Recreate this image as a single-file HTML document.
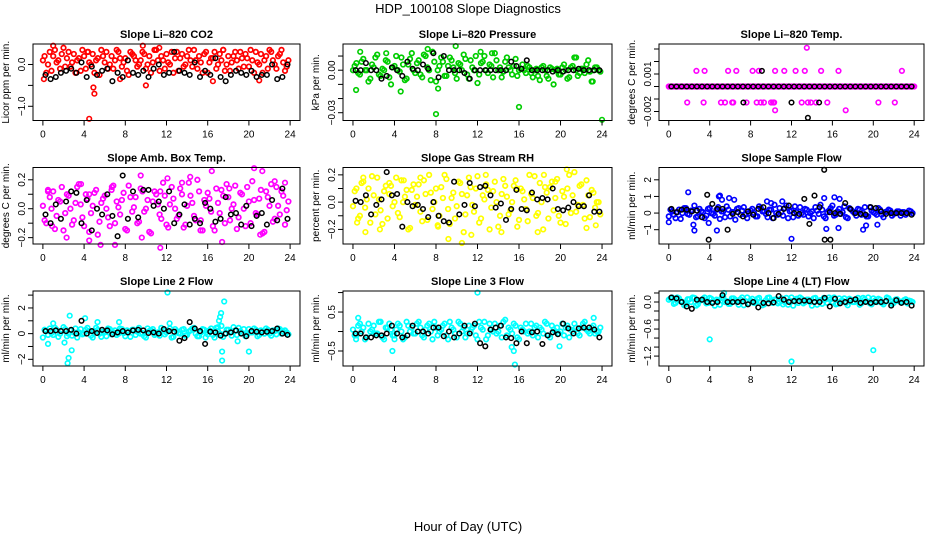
<!DOCTYPE html>
<html><head><meta charset="utf-8"><style>
body{margin:0;background:#fff}
svg{display:block;font-family:"Liberation Sans",sans-serif}
</style></head><body>
<svg id="chart" width="936" height="540" viewBox="0 0 936 540">
<text x="468" y="13" text-anchor="middle" font-size="13">HDP_100108  Slope Diagnostics</text>
<text x="468" y="531" text-anchor="middle" font-size="13">Hour of Day (UTC)</text>
</svg>
<script>
const xTicks=[0,4,8,12,16,20,24];
const p1Main=[0.1,-0.2,0.3,0.2,0.05,-0.1,0.4,0.15,-0.05,0.25,0.1,-0.15,0.2,0.3,0.0,-0.2,0.15,0.35,0.05,-0.1,0.2,0.1,0.3,-0.05,0.15,-0.25,0.25,0.1,0.0,0.3,-0.1,0.2,0.05,0.35,-0.15,0.1,0.25,0.0,-0.2,0.3,0.15,-0.05,0.2,0.1,0.35,-0.1,0.05,0.25,-0.2,0.15,0.3,0.0,0.1,-0.15,0.2,0.05,0.3,-0.1,0.15,0.25,-0.05,0.1,0.3,0.0,-0.2,0.2,0.35,0.1,-0.1,0.25,0.05,-0.05];
const p1Main2=[0.2,0.0,-0.15,0.35,0.1,0.25,-0.05,0.3,0.05,-0.2,0.15,0.35,-0.1,0.05,0.25,0.1,-0.25,0.2,0.3,0.0,-0.1,0.35,0.15,0.05,-0.15,0.3,0.2,-0.05,0.1,0.25,0.0,-0.2,0.35,0.1,0.2,-0.1,0.05,0.3,0.15,-0.15,0.25,0.0,0.35,-0.05,0.1,0.2,-0.2,0.3,0.05,0.15,-0.1,0.25,0.35,0.0,-0.15,0.2,0.1,0.3,-0.05,0.15,0.35,-0.2,0.05,0.25,0.1,-0.1,0.3,0.0,0.2,0.35,-0.15,0.1];
const p1ExH=[4.5,4.9,5.0,10.0,1.0,9.7,11.3,17.5,0.1,7.5,21.0,16.5,4.4];
const p1ExV=[-1.3,-0.55,-0.7,-0.5,0.45,0.45,0.4,0.35,-0.35,-0.35,-0.38,-0.4,0.3];
const p1Blk=[-0.25,-0.35,-0.3,-0.2,-0.15,-0.1,-0.2,0.05,-0.3,-0.05,-0.25,-0.15,-0.1,-0.4,-0.2,-0.3,0.1,-0.2,-0.25,-0.15,-0.3,-0.1,0.0,-0.25,-0.2,0.3,-0.15,-0.2,-0.25,0.05,-0.3,-0.15,-0.25,0.15,-0.3,-0.4,-0.25,-0.15,-0.2,-0.25,-0.15,-0.3,-0.25,-0.25,0.0,-0.35,-0.3,0.0];
const p2Main=[0,0.005,-0.003,0.008,0,-0.006,0.002,0.011,-0.004,0,0.006,-0.01,0.003,0,0.009,-0.007,0.004,0.012,-0.002,0.007,-0.005,0.01,0,0.013,-0.008,0.003,0.006,-0.004,0.009,0.002,-0.006,0.004,0.011,-0.003,0.007,0,-0.009,0.005,0.01,-0.002,0.003,0.012,0,-0.005,0.006,0.002,-0.003,0.008,0,0.004,-0.002,0.002,-0.005,0.001,-0.007,0.003,-0.004,0.002,-0.01,0.001,-0.003,0.004,-0.006,0.002,0.009,-0.004,0.001,-0.002,0.007,-0.008,0.002,0];
const p2Main2=[0.003,-0.002,0.006,0.0,-0.008,0.004,0.009,-0.003,0.001,0.007,-0.005,0.002,0.01,-0.001,0.004,-0.006,0.008,0.0,0.005,-0.003,0.011,0.002,-0.007,0.006,0.0,0.009,-0.004,0.003,0.007,-0.002,0.005,0.0,0.008,-0.006,0.002,0.01,-0.003,0.006,0.0,0.004,-0.005,0.007,0.002,-0.001,0.009,0.0,0.003,-0.004,0.001,0.0,0.003,-0.002,0.0,-0.004,0.002,0.0,-0.006,0.001,0.0,-0.003,0.002,0.0,-0.005,0.003,0.0,-0.002,0.001,0.004,-0.001,0.0,0.002,-0.001];
const p2ExH=[8.0,16.0,24.0,9.9,0.3,4.6,7.2,8.2,12.3,13.4,21.5,23.1,0.7,3.2];
const p2ExV=[-0.031,-0.026,-0.035,0.017,-0.014,-0.015,0.015,-0.013,0.013,0.012,0.009,-0.008,0.013,0.012];
const p2Blk=[0,0,0.005,0,0,-0.006,-0.004,0.002,0,-0.004,0.006,0.001,0,0.004,0.001,0.012,-0.005,0.01,0,0,0,-0.002,-0.006,0,0,0,0,0,0,0,0.006,0.003,0.001,0.007,0,0,0,0,-0.001,0,-0.001,0,0,0.001,0,0,0,0];
const p3Main=[0,0,0,0,0,0,0,0,0,0,0,0,0,0,0,0,0,0,0,0,0,0,0,0,0,0,0,0,0,0,0,0,0,0,0,0,0,0,0,0,0,0,0,0,0,0,0,0,0,0,0,0,0,0,0,0,0,0,0,0,0,0,0,0,0,0,0,0,0,0,0,0];
const p3Main2=[0,0,0,0,0,0,0,0,0,0,0,0,0,0,0,0,0,0,0,0,0,0,0,0,0,0,0,0,0,0,0,0,0,0,0,0,0,0,0,0,0,0,0,0,0,0,0,0,0,0,0,0,0,0,0,0,0,0,0,0,0,0,0,0,0,0,0,0,0,0,0,0];
const p3ExH=[1.8,2.7,3.5,3.4,5.1,5.8,5.5,6.2,6.3,6.6,7.6,8.2,8.8,8.6,9.3,9.0,10.0,10.2,10.4,10.3,11.3,12.4,13.0,13.3,13.6,13.9,14.4,14.9,15.5,16.6,20.5,22.1,22.8,13.5,10.4,17.3,24.0];
const p3ExV=[-0.00128,0.00125,0.00125,-0.00128,-0.00128,0.00125,-0.00128,-0.00128,-0.00128,0.00125,-0.00128,0.00125,0.00125,-0.00128,-0.00128,-0.00128,-0.00128,-0.00128,0.00125,-0.00128,0.00125,0.00125,-0.00128,0.00125,-0.00128,-0.00128,-0.00128,0.00125,-0.00128,0.00125,-0.00128,-0.00128,0.00125,0.0031,-0.0019,-0.0019,0];
const p3Blk=[0,0,0,0,0,0,0,0,0,0,0,0,0,0,0,0,0,0,0,0,0,0,0,0,0,0,0,0,0,0,0,0,0,0,0,0,0,0,0,0,0,0,0,0,0,0,0,0];
const p3BExH=[9.1,12,14.7,7.3,13.6];
const p3BExV=[0.00125,-0.00128,-0.00128,-0.00128,-0.0025];
const p4Main=[0.02,-0.1,0.08,0.12,-0.05,0.05,-0.15,0.1,0.0,-0.08,0.15,0.03,-0.12,0.07,-0.03,0.11,-0.18,0.04,0.09,-0.06,0.13,-0.1,0.01,0.06,-0.14,0.16,-0.02,0.08,-0.09,0.12,0.0,-0.16,0.05,0.1,-0.04,0.18,-0.11,0.03,0.07,-0.07,0.14,-0.13,0.02,0.09,-0.05,0.2,-0.08,0.06,0.11,-0.02,-0.15,0.04,0.13,-0.1,0.08,0.0,0.16,-0.06,0.1,-0.12,0.05,0.19,-0.03,0.07,-0.17,0.12,0.02,-0.09,0.15,-0.04,0.09,-0.01];
const p4Main2=[-0.08,0.12,0.0,-0.14,0.06,0.15,-0.03,0.09,-0.11,0.04,0.17,-0.06,0.1,-0.16,0.02,0.13,-0.09,0.07,0.0,-0.12,0.16,0.05,-0.04,0.11,-0.15,0.08,0.01,-0.1,0.14,-0.02,0.06,-0.17,0.12,0.03,-0.07,0.09,-0.13,0.15,0.0,-0.05,0.1,-0.11,0.18,0.04,-0.08,0.12,-0.15,0.02,0.07,-0.12,0.14,-0.03,0.09,0.17,-0.08,0.03,-0.14,0.11,0.0,0.15,-0.1,0.06,-0.04,0.13,-0.16,0.08,0.17,-0.07,0.02,0.12,-0.11,0.05];
const p4ExH=[0.5,3.7,4.5,5.6,7.0,9.5,11.4,12.1,14.3,16.4,17.4,20.5,21.3,22.5,23.5,0.9,2.3,4.5,6.7,9.6,11.4,13.5,15.3,18.1,21.1];
const p4ExV=[0.13,0.17,-0.22,-0.25,-0.25,0.23,-0.27,0.21,0.22,0.26,-0.23,0.28,0.26,0.19,0.18,-0.12,-0.2,0.1,0.15,-0.2,0.12,0.18,-0.15,0.14,-0.18];
const p4Blk=[-0.04,-0.1,0.03,-0.07,0.05,0.12,0.11,-0.1,0.06,-0.15,0.0,-0.04,0.1,-0.05,-0.19,0.23,-0.07,0.12,-0.06,0.13,0.13,0.02,0.05,0.0,0.12,-0.1,-0.04,0.03,-0.11,-0.07,-0.1,0.04,0.0,-0.09,-0.07,0.08,-0.04,-0.03,-0.11,0.02,-0.12,-0.05,-0.03,-0.11,0.06,-0.08,0.14,-0.07];
const p5Main=[-0.03,0.1,-0.1,0.15,0.02,-0.15,0.05,0.18,-0.06,0.08,-0.12,0.12,0.0,-0.08,0.16,0.04,-0.2,0.09,-0.02,0.13,-0.14,0.06,0.2,-0.05,0.1,-0.1,0.03,0.17,-0.16,0.07,-0.03,0.14,-0.22,0.05,0.11,-0.07,0.19,-0.12,0.02,0.09,-0.04,0.15,-0.18,0.06,0.12,-0.09,0.0,0.16,-0.13,0.08,-0.05,0.2,0.03,-0.1,0.14,-0.2,0.07,0.11,-0.06,0.17,-0.15,0.04,0.1,-0.08,0.22,-0.02,0.13,-0.12,0.05,0.09,-0.04,0.0];
const p5Main2=[0.08,-0.12,0.14,-0.04,0.1,0.19,-0.09,0.02,-0.16,0.12,0.06,-0.03,0.18,-0.11,0.0,0.09,-0.19,0.13,0.04,-0.07,0.16,-0.13,0.07,0.0,-0.17,0.11,0.2,-0.05,0.03,-0.12,0.15,0.06,-0.09,0.18,-0.02,0.1,-0.15,0.05,0.13,-0.2,0.08,0.0,-0.1,0.17,0.04,-0.06,0.12,-0.18,0.1,0.02,-0.14,0.06,0.19,-0.08,0.0,0.11,-0.12,0.15,0.03,-0.1,0.08,-0.16,0.2,0.05,-0.07,0.12,-0.02,0.16,-0.11,0.07,0.0,-0.09];
const p5ExH=[0.4,1.2,2.6,4.9,8.2,9.2,10.5,11.4,14.3,17.8,18.4,20.6,22.5,23.4,1.0,3.5,6.5,12.8,15.8,19.5];
const p5ExV=[-0.15,-0.22,-0.2,0.16,-0.18,-0.27,-0.3,-0.24,-0.22,-0.22,0.2,0.24,-0.19,-0.17,0.18,0.14,0.18,0.2,0.1,0.15];
const p5Blk=[0.01,0.0,0.05,-0.09,-0.02,0.02,0.22,0.05,0.06,-0.18,0.0,-0.03,-0.02,-0.05,-0.11,0.0,-0.1,-0.14,-0.15,0.15,-0.09,-0.02,0.14,-0.03,0.11,0.12,0.05,-0.04,-0.01,-0.13,-0.05,0.09,-0.05,-0.06,0.07,0.02,0.03,0.02,0.1,-0.05,-0.06,-0.04,0.0,-0.03,-0.03,0.05,-0.07,-0.07];
const p6Main=[-0.2,0.1,-0.3,0.2,0.0,0.3,-0.1,0.15,-0.25,0.25,0.05,-0.15,0.3,-0.05,0.2,-0.35,0.1,0.4,-0.2,0.05,0.25,-0.1,0.35,-0.3,0.15,0.0,-0.2,0.3,0.1,-0.25,0.2,0.5,-0.1,0.05,0.3,-0.3,0.15,0.4,-0.15,0.0,0.25,-0.2,0.1,0.35,-0.05,0.2,-0.3,0.15,0.45,-0.1,0.25,0.05,-0.25,0.3,0.1,-0.15,0.2,0.0,-0.2,0.35,0.05,-0.1,0.2,-0.25,0.1,0.15,-0.05,0.1,-0.15,0.05,0.0,0.1];
const p6Main2=[0.2,-0.1,0.05,-0.35,0.3,-0.05,0.15,0.45,-0.2,0.1,-0.3,0.25,0.0,-0.15,0.35,0.1,-0.25,0.2,0.05,-0.4,0.3,0.15,-0.1,0.0,0.25,-0.2,0.4,0.1,-0.05,0.2,-0.3,0.0,0.3,-0.15,0.45,0.1,-0.25,0.05,0.35,-0.1,0.2,0.0,-0.3,0.15,0.5,-0.2,0.05,0.3,-0.15,0.1,-0.05,0.4,-0.3,0.2,0.0,0.25,-0.1,0.35,-0.2,0.15,0.0,0.3,-0.1,0.05,0.2,-0.15,0.0,0.1,0.05,-0.1,0.15,0.0];
const p6ExH=[0.0,1.9,2.4,2.5,4.7,4.9,5.0,5.2,5.9,6.4,9.6,11.1,12.0,15.2,15.4,16.2,16.6,16.7,19.0,19.3,20.4,3.9,10.0];
const p6ExV=[-0.55,1.25,-0.7,-1.05,-1.05,1.0,1.05,0.8,0.9,0.8,0.7,0.7,-1.55,0.9,-0.95,0.95,-0.9,0.85,-1.0,-0.75,-0.7,-0.6,0.6];
const p6Blk=[0.25,0.05,0.2,0.2,0.1,0.15,-0.25,1.1,0.55,0.25,0.25,-1.0,-0.05,0.05,-0.2,0.1,-0.1,0.25,0.35,0.0,-0.3,-0.05,0.25,0.45,0.0,-0.05,0.85,-0.65,1.05,0.35,-1.6,0.05,0.0,-0.05,0.6,0.25,0.0,-0.05,-0.1,0.35,0.3,0.1,-0.05,0.0,0.0,0.0,0.0,-0.1];
const p6BExH=[3.9,15.2,15.8];
const p6BExV=[-1.6,2.6,-1.6];
const p7Main=[-0.3,0.2,0.4,-0.1,0.3,0.0,0.5,-0.2,0.25,0.1,-0.3,0.35,0.0,0.45,-0.15,0.2,0.3,-0.25,0.1,0.4,-0.05,0.25,0.0,0.35,-0.2,0.15,0.3,-0.1,0.45,0.05,-0.3,0.2,0.35,0.0,-0.15,0.3,0.1,0.4,-0.25,0.2,0.0,0.35,-0.1,0.25,0.45,-0.2,0.1,0.3,-0.05,0.4,-0.3,0.2,0.6,0.0,0.3,-0.15,0.25,0.45,0.05,-0.2,0.35,0.1,0.3,-0.1,0.2,0.4,0.0,0.25,-0.05,0.35,0.15,0.1];
const p7Main2=[0.3,-0.1,0.05,0.45,-0.25,0.2,0.35,0.0,-0.15,0.4,0.1,-0.05,0.3,0.2,-0.3,0.45,0.0,0.15,-0.2,0.35,0.1,-0.1,0.4,0.05,0.25,-0.25,0.3,0.15,0.0,-0.2,0.4,0.25,-0.1,0.1,0.45,-0.05,0.2,-0.3,0.35,0.05,0.3,-0.15,0.15,0.4,0.0,-0.2,0.35,0.1,0.25,-0.1,0.45,0.0,-0.25,0.3,0.15,0.5,-0.1,0.2,0.35,-0.05,0.1,0.4,-0.2,0.25,0.0,0.3,-0.15,0.2,0.4,0.0,0.25,-0.05];
const p7ExH=[0.5,1.0,2.1,2.4,2.5,2.6,2.8,4.1,5.3,7.4,12.1,12.3,17.0,17.1,17.2,17.3,17.4,17.4,17.6,18.9,20.0,15.8];
const p7ExV=[-0.8,0.8,-0.7,-2.3,-1.9,1.4,-1.3,1.2,0.9,0.9,3.2,0.8,0.5,1.0,1.3,1.6,-1.4,-2.1,2.5,-0.6,-1.4,-0.3];
const p7Blk=[0.2,0.2,0.25,0.2,0.2,0.3,0.0,1.0,0.0,0.2,0.05,0.3,0.25,-0.05,0.1,0.2,0.1,0.25,0.3,0.25,0.05,0.1,0.0,0.35,0.2,0.15,-0.55,-0.35,0.9,0.4,0.2,-0.8,0.15,0.1,-0.15,0.0,0.1,0.25,0.0,-0.2,0.2,0.15,0.1,0.15,0.2,0.4,0.0,-0.1];
const p8Main=[0.05,-0.1,0.2,0.1,-0.15,0.0,0.15,-0.05,0.25,-0.2,0.1,0.05,-0.1,0.2,0.0,-0.15,0.15,0.1,-0.05,0.25,-0.1,0.05,0.2,-0.2,0.1,0.0,0.15,-0.1,0.25,0.05,-0.15,0.2,0.1,-0.05,0.0,0.15,-0.2,0.1,0.25,-0.1,0.05,0.2,0.0,-0.15,0.3,0.1,-0.05,0.15,-0.2,0.05,0.2,0.0,-0.1,0.15,0.1,-0.05,0.2,-0.15,0.05,0.1,0.0,-0.1,0.15,0.05,0.2,-0.05,0.1,0.25,0.0,0.1,-0.05,0.0];
const p8Main2=[-0.1,0.15,0.0,-0.2,0.2,0.05,-0.05,0.25,-0.15,0.1,0.2,-0.1,0.05,0.15,-0.2,0.25,0.0,-0.05,0.2,0.1,-0.15,0.15,0.0,0.25,-0.1,0.05,0.2,-0.2,0.1,-0.05,0.25,0.0,-0.15,0.15,0.1,-0.1,0.25,0.05,-0.2,0.2,0.0,-0.05,0.15,0.25,-0.1,0.05,0.2,-0.15,0.1,0.0,-0.05,0.2,0.1,-0.15,0.05,0.25,-0.1,0.15,0.0,-0.05,0.2,0.1,-0.15,0.0,0.1,-0.1,0.2,0.05,-0.05,0.15,0.0,0.1];
const p8ExH=[0.3,0.5,3.8,4.0,12.0,15.3,15.5,15.6,19.9,23.2];
const p8ExV=[-0.2,0.35,-0.5,-0.2,1.0,-0.4,-0.5,-0.85,-0.38,0.35];
const p8Blk=[-0.05,-0.05,-0.15,-0.15,-0.1,-0.1,-0.05,0.15,-0.05,-0.15,-0.1,0.15,0.0,0.0,-0.05,0.1,0.1,-0.12,0.0,-0.15,-0.05,0.15,-0.05,0.2,-0.3,-0.38,0.05,0.1,0.15,-0.15,-0.17,-0.3,0.0,-0.3,-0.02,0.0,-0.32,-0.1,-0.02,-0.07,0.2,0.08,-0.05,0.08,0.1,0.1,0.05,-0.15];
const p9Main=[0.05,0.1,-0.02,0.08,0.0,-0.05,0.06,0.1,-0.08,0.03,0.07,-0.03,0.09,0.0,0.05,-0.06,0.1,0.02,-0.04,0.08,0.0,0.06,-0.07,0.1,0.03,-0.02,0.07,0.0,-0.05,0.09,0.02,0.05,-0.03,0.08,0.0,-0.06,0.1,0.04,-0.02,0.07,0.0,0.05,-0.08,0.09,0.02,-0.04,0.06,0.1,0.0,-0.05,0.08,0.03,-0.02,0.07,0.0,0.05,-0.06,0.09,0.02,-0.03,0.08,0.0,0.05,-0.05,0.1,0.02,-0.02,0.06,0.0,0.04,-0.03,0.02];
const p9Main2=[0.08,-0.04,0.1,0.02,-0.07,0.06,0.0,0.09,-0.05,0.04,0.1,-0.02,0.07,-0.08,0.03,0.09,0.0,-0.04,0.08,0.05,-0.06,0.1,0.02,-0.03,0.07,0.0,0.09,-0.07,0.04,0.1,-0.02,0.06,0.0,-0.05,0.09,0.03,-0.08,0.07,0.1,-0.03,0.05,0.0,0.08,-0.06,0.04,0.09,-0.02,0.06,0.1,-0.04,0.02,0.08,-0.07,0.05,0.0,0.09,-0.03,0.06,0.1,-0.05,0.03,0.07,-0.02,0.0,0.08,-0.04,0.05,0.02,-0.01,0.06,0.03,0.0];
const p9ExH=[4.0,12.0,20.0,5.4];
const p9ExV=[-0.83,-1.32,-1.07,0.2];
const p9Blk=[0.1,0.08,0.0,-0.1,-0.15,0.05,0.05,0.0,-0.02,0.0,0.15,0.0,0.0,0.0,0.01,-0.05,0.0,-0.12,-0.02,-0.03,-0.01,0.13,0.05,0.0,0.02,0.02,0.03,0.02,0.0,0.0,0.09,-0.1,0.07,-0.03,0.0,0.03,0.06,-0.02,0.0,-0.02,0.0,0.0,0.02,-0.08,0.04,-0.02,0.0,-0.08];

const NS="http://www.w3.org/2000/svg";
const svg=document.getElementById('chart');
function mk(tag,attrs,parent){const e=document.createElementNS(NS,tag);for(const k in attrs)e.setAttribute(k,attrs[k]);(parent||svg).appendChild(e);return e;}
const cols=[{l:33,r:300},{l:343,r:612},{l:659,r:924}];
const rows=[{t:44,b:120.5},{t:167.5,b:244},{t:291,b:366}];
const panels=[
 {title:'Slope Li\u2013820 CO2',ylab:'Licor ppm per min.',col:'#ff0000',ymin:-1.34,ymax:0.49,ticks:[-1,-0.5,0],labs:{'-1':'\u22121.0','0':'0.0'},main:p1Main,main2:p1Main2,exH:p1ExH,exV:p1ExV,blk:p1Blk,bH:[],bV:[]},
 {title:'Slope Li\u2013820 Pressure',ylab:'kPa per min.',col:'#00cd00',ymin:-0.0355,ymax:0.0185,ticks:[0.01,0,-0.01,-0.02,-0.03],labs:{'0':'0.00','-0.03':'\u22120.03'},main:p2Main,main2:p2Main2,exH:p2ExH,exV:p2ExV,blk:p2Blk,bH:[],bV:[]},
 {title:'Slope Li\u2013820 Temp.',ylab:'degrees C per min.',col:'#ff00ff',ymin:-0.00272,ymax:0.0034,ticks:[0.003,0.002,0.001,0,-0.001,-0.002],labs:{'0.001':'0.001','-0.002':'\u22120.002'},main:p3Main,main2:p3Main2,exH:p3ExH,exV:p3ExV,blk:p3Blk,bH:p3BExH,bV:p3BExV},
 {title:'Slope Amb. Box Temp.',ylab:'degrees C per min.',col:'#ff00ff',ymin:-0.244,ymax:0.285,ticks:[0.2,0.1,0,-0.1,-0.2],labs:{'0.2':'0.2','0':'0.0','-0.2':'\u22120.2'},main:p4Main,main2:p4Main2,exH:p4ExH,exV:p4ExV,blk:p4Blk,bH:[],bV:[]},
 {title:'Slope Gas Stream RH',ylab:'percent per min.',col:'#ffff00',ymin:-0.307,ymax:0.254,ticks:[0.2,0.1,0,-0.1,-0.2],labs:{'0.2':'0.2','0':'0.0','-0.2':'\u22120.2'},main:p5Main,main2:p5Main2,exH:p5ExH,exV:p5ExV,blk:p5Blk,bH:[],bV:[]},
 {title:'Slope Sample Flow',ylab:'ml/min per min.',col:'#0000ff',ymin:-1.86,ymax:2.74,ticks:[-1,0,1,2],labs:{'-1':'\u22121','0':'0','1':'1','2':'2'},main:p6Main,main2:p6Main2,exH:p6ExH,exV:p6ExV,blk:p6Blk,bH:p6BExH,bV:p6BExV},
 {title:'Slope Line 2 Flow',ylab:'ml/min per min.',col:'#00ffff',ymin:-2.52,ymax:3.32,ticks:[-2,-1,0,1,2,3],labs:{'-2':'\u22122','0':'0','2':'2'},main:p7Main,main2:p7Main2,exH:p7ExH,exV:p7ExV,blk:p7Blk,bH:[],bV:[]},
 {title:'Slope Line 3 Flow',ylab:'ml/min per min.',col:'#00ffff',ymin:-0.885,ymax:1.04,ticks:[1,0.5,0,-0.5],labs:{'0.5':'0.5','-0.5':'\u22120.5'},main:p8Main,main2:p8Main2,exH:p8ExH,exV:p8ExV,blk:p8Blk,bH:[],bV:[]},
 {title:'Slope Line 4 (LT) Flow',ylab:'ml/min per min.',col:'#00ffff',ymin:-1.42,ymax:0.244,ticks:[0.2,0,-0.2,-0.4,-0.6,-0.8,-1,-1.2],labs:{'0':'0.0','-0.6':'\u22120.6','-1.2':'\u22121.2'},main:p9Main,main2:p9Main2,exH:p9ExH,exV:p9ExV,blk:p9Blk,bH:[],bV:[]}
];
panels.forEach((p,i)=>{
 const c=cols[i%3],r=rows[Math.floor(i/3)];
 const g=mk('g',{});
 
 
 const xs=h=>c.l+(h+0.96)/25.92*(c.r-c.l);
 const ys=v=>r.b-(v-p.ymin)/(p.ymax-p.ymin)*(r.b-r.t);
 const t=mk('text',{x:(c.l+c.r)/2,y:r.t-6,'text-anchor':'middle','font-size':'11','font-weight':'bold'},g);
 t.textContent=p.title;
 
 
 const yl=mk('text',{transform:`translate(${c.l-24},${(r.t+r.b)/2}) rotate(-90)`,'text-anchor':'middle','font-size':'10'},g);
 yl.textContent=p.ylab;
 
 
 const pts=mk('g',{fill:'none'},g);
 
 
 const dot=(h,v,col,sw)=>{const e=mk('circle',{cx:xs(h).toFixed(1),cy:ys(v).toFixed(1),r:2.3,stroke:col,'stroke-width':sw},pts);
  
  };
 p.main.forEach((v,k)=>dot(k/3,v,p.col,1.7));
 p.main2.forEach((v,k)=>dot(k/3+1/6,v,p.col,1.7));
 p.exH.forEach((h,k)=>dot(h,p.exV[k],p.col,1.6));
 p.blk.forEach((v,k)=>dot(k/2+0.25,v,'#000',1.5));
 p.bH.forEach((h,k)=>dot(h,p.bV[k],'#000',1.5));
 const box=mk('rect',{x:c.l,y:r.t,width:c.r-c.l,height:r.b-r.t,fill:'none',stroke:'#000','stroke-width':'1'},g);
 
 
 xTicks.forEach(h=>{const x=xs(h);
  mk('line',{x1:x,x2:x,y1:r.b,y2:r.b+5,stroke:'#000'},g);
  const tl=mk('text',{x:x,y:r.b+17,'text-anchor':'middle','font-size':'10'},g);
  tl.textContent=h;
  
  });
 p.ticks.forEach(v=>{const y=ys(v);
  mk('line',{x1:c.l-5,x2:c.l,y1:y,y2:y,stroke:'#000'},g);
  const key=String(v);
  if(p.labs[key]!==undefined){const tl=mk('text',{transform:`translate(${c.l-8},${y}) rotate(-90)`,'text-anchor':'middle','font-size':'10'},g);
   tl.textContent=p.labs[key];
   
   }});
});
</script>
</body></html>
